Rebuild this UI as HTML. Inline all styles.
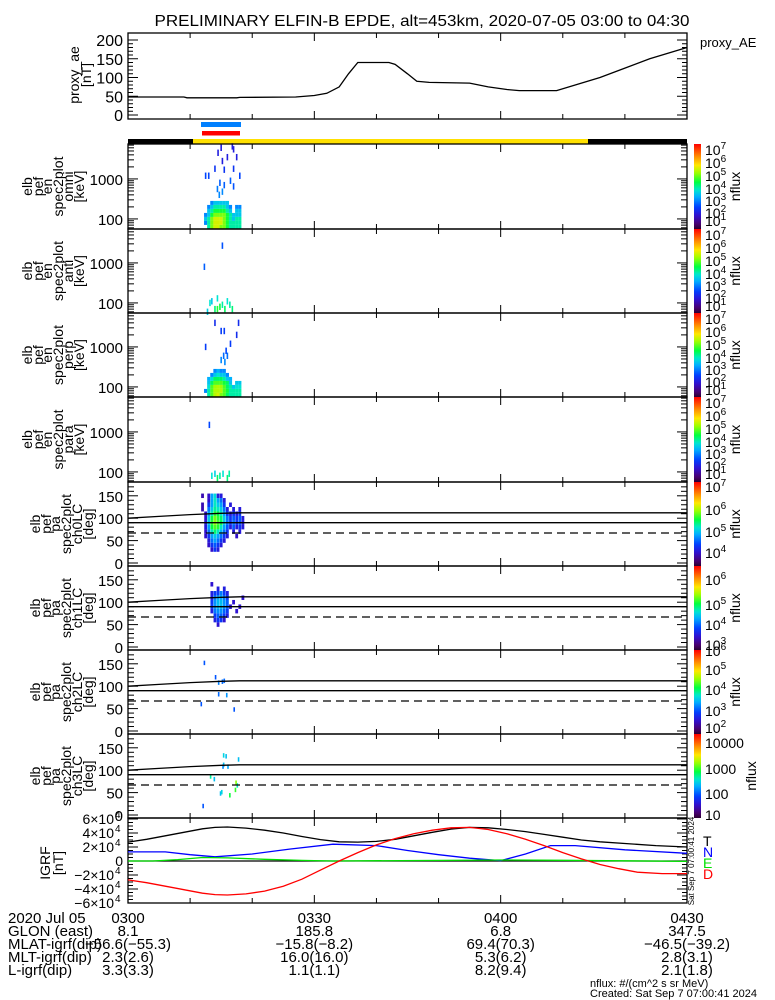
<!DOCTYPE html>
<html><head><meta charset="utf-8"><style>
html,body{margin:0;padding:0;background:#fff}
svg{display:block}
text{font-family:"Liberation Sans",sans-serif;fill:#000}
</style></head><body>
<svg id="fig" xmlns="http://www.w3.org/2000/svg" width="775" height="1000" viewBox="0 0 775 1000">
<rect width="775" height="1000" fill="#fff"/>
<text x="422" y="26" font-size="16" text-anchor="middle" textLength="535" lengthAdjust="spacingAndGlyphs">PRELIMINARY ELFIN-B EPDE, alt=453km, 2020-07-05 03:00 to 04:30</text>
</svg>
<script>
// ---------- data ----------
const aeTimes = [0,9,9.5,17.5,18,27,30,32,34,35.5,37,42,43,45,46.5,48.5,55,58,61,63,69,72,76,80,84,90];
const aeValues = [48,48,46,46,47,48,52,58,75,110,140,140,135,110,90,87,85,75,68,65,65,80,100,125,150,180];

const specBinsLog = [1.75,1.85,1.95,2.05,2.15,2.25,2.35];
const specTimes = [12.5,13,13.5,14,14.5,15,15.5,16,16.5,17,17.5,18];
const omniFlux = [
 [0,4,5,5.5,5.5,5,5,4.5,4,4,4,4],
 [3,4,5,5.5,5.5,5.5,5,4.5,4,4,4,4],
 [3.5,4,5,5.5,5.5,5.5,5,4.5,4,3.5,4,4],
 [3,3.5,4.5,5,5,5,5,4.5,4,3.5,3.5,3.5],
 [0,3.5,4,4.5,4.5,4.5,4.5,4,3.5,0,3.5,3.5],
 [0,3,3.5,4,4,4,4,3.5,3,0,3,3],
 [0,0,3,3.5,3.5,3.5,3.5,3.5,0,0,0,0]];
const perpFlux = [
 [0,4,4.8,5.3,5.5,5,4.8,4.3,4,4,4,4],
 [3,4,4.8,5.3,5.3,5.3,4.8,4.5,4,4,4,4],
 [0,3.8,4.8,5.2,5.3,5.2,4.8,4.3,4,3.5,3.8,3.8],
 [0,3.5,4.3,4.8,4.8,4.8,4.5,4.3,3.5,0,3.5,3.5],
 [0,3.3,3.8,4.3,4.3,4.3,4,3.5,3.3,0,0,0],
 [0,0,3,3.5,3.8,3.5,3.5,3,0,0,0,0],
 [0,0,0,3,3.3,3,3,0,0,0,0,0]];
const omniSparse = [[12.5,1200,2.5],[13,1200,2.5],[14,1800,2.3],[15.5,1700,2.3],[17,1800,2.3],[15.2,2800,2],[16,3500,2],[17.5,3500,2],[14.5,4500,2],[17,5500,2],[16.8,6500,2],[15,6000,2],[18,1200,2.5],[16.5,900,2.7],[14.8,800,2.7],[15.5,700,2.7],[17,650,2.6],[14.4,560,2.9],[15.2,480,3],[14.7,400,3]];
const perpSparse = [[14,4000,2.2],[15,2500,2.4],[15.5,2500,2.4],[17.8,4000,2.2],[17.5,2000,2.2],[16.5,1200,2.4],[12.5,1000,2.4],[15.8,800,2.5],[15.4,600,2.8],[16,600,2.8],[15,470,3],[15.6,420,3]];
const antSparse = [[13.2,100,3.8],[13.5,110,3.5],[14,70,4.2],[14.4,130,3.8],[14.8,80,4.5],[15.2,90,4],[15.6,70,4.3],[16,110,3.8],[16.4,90,4],[16.8,70,4.2],[14.4,70,4.6],[12.8,60,3.6],[15.2,2700,2.6],[12.3,800,2.7]];
const paraSparse = [[13.1,1500,2.5],[13.5,80,3.8],[14,90,3.6],[14.4,70,4.3],[14.8,80,4],[15.3,90,3.8],[16,70,4.2],[16.3,90,4]];

const paBins = [150,140,130,120,110,100,90,80,70,60,50,40,30];
const ch0Times = [12,12.5,13,13.5,14,14.5,15,15.5,16,16.5,17,17.5,18,18.5];
const ch0Flux = [
 [3.9,0,4,4.8,5.1,4.1,4.1,0,0,0,0,0,0,0],
 [0,0,4,4.8,5.2,4.8,4.6,4.1,0,0,0,0,0,0],
 [3.9,0,4.3,4.8,5.2,5,4.8,4.3,0,4.1,0,0,0,0],
 [3.9,0,4.6,5,5.3,5.2,5,4.6,4.1,0,4.1,0,4.1,0],
 [0,4,4.8,5.2,5.6,5.5,5.2,4.8,4.3,4.1,4.3,4.1,4.3,0],
 [0,4,5,5.5,5.8,5.6,5.4,5,4.6,4.3,4.5,4.3,4.5,4.1],
 [0,4.1,5,5.6,5.9,5.7,5.5,5,4.6,4.3,4.6,4.3,4.5,4.1],
 [0,4.1,4.8,5.5,5.7,5.6,5.2,4.8,4.5,4.1,4.5,4.1,4.3,4.1],
 [0,4,4.6,5.2,5.4,5.2,4.9,4.6,4.3,0,4.1,0,4.1,0],
 [0,4,4.3,4.8,5,4.8,4.6,4.3,4.1,0,0,4,0,0],
 [0,0,4.1,4.6,4.8,4.6,4.3,4.1,0,0,0,0,0,0],
 [0,0,4,4.3,4.5,4.3,4.1,0,0,0,0,0,0,0],
 [0,0,0,4,4.3,4.1,0,0,0,0,0,0,0,0]];
const ch1Times = [13,13.5,14,14.5,15,15.5,16,16.5,17,17.5,18,18.5];
const ch1Flux = [
 [0,0,0,0,0,0,0,0,0,0,0,0],
 [0,3.4,0,0,0,0,0,0,0,0,0,0],
 [0,0,0,3.5,0,3.5,0,0,0,0,0,0],
 [0,3.5,3.7,3.7,4,3.7,3.5,0,0,0,0,0],
 [0,3.5,4,4.2,4.2,4,3.7,0,0,0,0,3.4],
 [0,3.7,4.1,4.3,4.3,4.1,3.9,0,3.4,0,0,0],
 [0,3.7,4.1,4.3,4.3,4.1,3.9,3.4,0,0,3.4,0],
 [0,3.5,4,4.1,4.1,3.9,3.7,0,0,3.4,0,0],
 [0,0,3.7,3.9,3.9,3.7,3.5,0,0,0,0,0],
 [0,0,3.5,3.7,3.7,3.4,0,0,0,0,0,0],
 [0,0,0,3.4,0,0,0,0,0,0,0,0],
 [0,0,0,0,0,0,0,0,0,0,0,0],
 [0,0,0,0,0,0,0,0,0,0,0,0]];
const ch2Sparse = [[12.3,152,2.9],[14.1,120,2.9],[14.6,108,3.1],[15.2,110,3],[15.5,112,3],[14.6,82,3],[15.9,80,3.2],[11.8,60,2.9],[17.1,48,2.9]];
const ch3Sparse = [[15.4,133,2.3],[15.8,131,2.2],[15.4,112,2.2],[15.3,108,2],[16.1,108,2.1],[17.8,124,2.2],[13.3,86,2.5],[13.9,80,2.2],[14.9,48,2.2],[15.1,51,2.3],[16.4,44,2.7],[17.3,56,2.8],[17.6,66,2.4],[17.4,72,3],[12.1,20,1.8]];

const lcTimes = [0,5,10,15,18,90];
const lcValues = [100,104,108,111,112,112];

const igrfTimes = [0,3,6,9,12,14,16,19,22,25,28,31,34,37,40,43,46,49,52,55,58,61,64,67,70,73,76,80,85,90];
const igrfT = [27000,31000,36000,41000,46000,48000,48500,47000,44000,40000,35000,30500,27500,27000,28000,31000,36000,41000,45500,48000,47500,45000,42000,38000,34000,30000,27500,25000,22000,20000];
const nTimes = [0,6,10,14,20,26,33,40,45,50,55,60,64,68,72,80,90];
const igrfN = [13000,13000,9000,6000,10000,17000,24000,22000,15000,9000,4000,500,10000,22000,22000,16000,11000];
const eTimes = [0,4,8,12,16,22,28,33,60,70,90];
const igrfE = [0,0,2000,5000,4500,2500,800,0,1500,1000,-500];
const dTimes = [0,3,6,9,12,14,16,19,22,25,28,31,34,37,40,43,46,49,52,55,58,61,64,67,70,73,76,79,82,86,90];
const igrfD = [-27000,-31000,-36000,-41000,-46000,-48000,-48500,-47000,-43000,-36000,-26000,-13000,0,12000,23000,32000,39000,44000,47500,48000,45000,39000,31000,22000,12000,3000,-5000,-11000,-16000,-18000,-18000];

const bottomLabels = ["2020 Jul 05","GLON (east)","MLAT-igrf(dip)","MLT-igrf(dip)","L-igrf(dip)"];
const colTimes = [0,30,60,90];
const colValues = [
 ["0300","8.1","−56.6(−55.3)","2.3(2.6)","3.3(3.3)"],
 ["0330","185.8","−15.8(−8.2)","16.0(16.0)","1.1(1.1)"],
 ["0400","6.8","69.4(70.3)","5.3(6.2)","8.2(9.4)"],
 ["0430","347.5","−46.5(−39.2)","2.8(3.1)","2.1(1.8)"]];

// ---------- helpers ----------
const NS = "http://www.w3.org/2000/svg";
const svg = document.getElementById('fig');
const X0 = 128, X1 = 687;
const xs = m => X0 + m * (X1 - X0) / 90;
function el(tag, attrs, parent) {
  const e = document.createElementNS(NS, tag);
  for (const k in attrs) e.setAttribute(k, attrs[k]);
  (parent || svg).appendChild(e);
  return e;
}
function txt(x, y, s, size, anchor, parent) {
  const t = el('text', {x: x, y: y, 'font-size': size || 14, 'text-anchor': anchor || 'start'}, parent);
  t.textContent = s;
  return t;
}
const stops = [[0,'#2a0030'],[0.06,'#4a0070'],[0.16,'#3010d0'],[0.26,'#0040ff'],[0.38,'#00b0ff'],[0.46,'#00e8d0'],[0.55,'#00ff40'],[0.66,'#a0ff00'],[0.75,'#ffe800'],[0.86,'#ff8800'],[1,'#ff0000']];
function hex(c){return [parseInt(c.substr(1,2),16),parseInt(c.substr(3,2),16),parseInt(c.substr(5,2),16)];}
function cmap(f) {
  f = Math.max(0, Math.min(1, f));
  for (let i = 1; i < stops.length; i++) {
    if (f <= stops[i][0]) {
      const a = hex(stops[i-1][1]), b = hex(stops[i][1]);
      const t = (f - stops[i-1][0]) / (stops[i][0] - stops[i-1][0]);
      return 'rgb(' + a.map((v, j) => Math.round(v + (b[j] - v) * t)).join(',') + ')';
    }
  }
  return stops[stops.length-1][1];
}
let gradMade = false;
function colorbar(top, bot, name) {
  if (!gradMade) {
    const defs = el('defs', {});
    const g = el('linearGradient', {id: 'cb', x1: 0, y1: 1, x2: 0, y2: 0}, defs);
    for (let i = 0; i <= 40; i++) el('stop', {offset: i / 40, 'stop-color': cmap(i / 40)}, g);
    gradMade = true;
  }
  const r = el('rect', {x: 694, y: top, width: 7, height: bot - top, fill: 'url(#cb)'});
  
  
}
function powLabel(x, y, exp, g) {
  const t = el('text', {x: x, y: y, 'font-size': 14}, g);
  t.appendChild(document.createTextNode('10'));
  const s = el('tspan', {dy: -6, 'font-size': 10}, t);
  s.textContent = exp;
}
function frame(top, bot, name) {
  const r = el('rect', {x: X0, y: top, width: X1 - X0, height: bot - top, fill: 'none', stroke: '#000', 'stroke-width': 1.3});
  
  
  for (let m = 0; m <= 90; m += 10) {
    const x = xs(m), L = (m % 30 === 0) ? 8 : 5;
    el('line', {x1: x, y1: top, x2: x, y2: top + L, stroke: '#000'});
    el('line', {x1: x, y1: bot, x2: x, y2: bot - L, stroke: '#000'});
  }
}
function ytick(y, L) {
  el('line', {x1: X0, y1: y, x2: X0 + L, y2: y, stroke: '#000'});
  el('line', {x1: X1, y1: y, x2: X1 - L, y2: y, stroke: '#000'});
}
function rotLabel(lines, xsPos, cy, name) {
  const g = el('g', {});
  
  
  lines.forEach((s, i) => {
    const t = el('text', {x: 0, y: 0, 'font-size': 14, 'text-anchor': 'middle', 'dominant-baseline': 'central', transform: 'translate(' + xsPos[i] + ',' + cy + ') rotate(-90)'}, g);
    t.textContent = s;
  });
}
function poly(times, vals, yf, color, name, dash) {
  const pts = times.map((t, i) => xs(t).toFixed(1) + ',' + yf(vals[i]).toFixed(1)).join(' ');
  const p = el('polyline', {points: pts, fill: 'none', stroke: color, 'stroke-width': 1.3});
  if (dash) p.setAttribute('stroke-dasharray', dash);
  
  
}

// ---------- AE panel ----------
const aeY = v => 115 - v * 0.375;
frame(33, 119, 'proxy-ae-panel');
for (let v = 0; v <= 200; v += 10) ytick(aeY(v), v % 50 === 0 ? 10 : 5);
[0,50,100,150,200].forEach(v => {
  const t = txt(123, aeY(v) + 6, String(v), 16, 'end');
  
  
});
poly(aeTimes, aeValues, aeY, '#000', 'proxy-ae-line');
rotLabel(['proxy_ae', '[nT]'], [74, 86], 75, 'ae-y-axis-title');
{ const t = txt(700, 47, 'proxy_AE', 13);   }

// bars
{ let r = el('rect', {x: 201, y: 122, width: 40, height: 5, fill: '#0080ff'});  
  r = el('rect', {x: 202, y: 131, width: 38, height: 4.5, fill: '#ff0000'});  
  r = el('rect', {x: X0, y: 139, width: 65, height: 5, fill: '#000'});  
  r = el('rect', {x: 193, y: 139, width: 395, height: 5, fill: '#ffe000'});  
  r = el('rect', {x: 588, y: 139, width: 99, height: 5, fill: '#000'});   }

// ---------- spectrogram panels ----------
const specTops = [144, 229, 313, 397, 482];
const specNames = ['omni', 'anti', 'perp', 'para'];
const specFrac = f => 0.19 + (f - 2) * 0.148;
specNames.forEach((nm, p) => {
  const top = specTops[p], bot = specTops[p + 1];
  const eY = lg => bot - (lg - Math.log10(56)) * 40;
  const cells = el('g', {});
  
  
  const mat = p === 0 ? omniFlux : p === 2 ? perpFlux : null;
  if (mat) mat.forEach((row, bi) => row.forEach((f, ti) => {
    if (!f) return;
    const y0 = eY(specBinsLog[bi] + 0.1), y1 = eY(specBinsLog[bi]);
    const r = el('rect', {x: xs(specTimes[ti]) - 1.6, y: y0, width: 3.2, height: y1 - y0, fill: cmap(specFrac(f))}, cells);
    
    
  }));
  const sp = [omniSparse, antSparse, perpSparse, paraSparse][p];
  sp.forEach(d => {
    const lg = Math.log10(d[1]);
    const y0 = eY(lg + 0.08), y1 = eY(lg - 0.08);
    const r = el('rect', {x: xs(d[0]) - 0.8, y: y0, width: 1.6, height: y1 - y0, fill: cmap(specFrac(d[2]))}, cells);
    
    
  });
  frame(top, bot, 'spectrogram-' + nm + '-panel');
  for (let d = 1; d <= 3; d++) for (let m = 1; m <= 9; m++) {
    const y = eY(Math.log10(m * Math.pow(10, d)));
    if (y > top + 1 && y < bot - 1) ytick(y, m === 1 ? 10 : 6);
  }
  [[100, '100'], [1000, '1000']].forEach(v => {
    const t = txt(123, eY(Math.log10(v[0])) + 6, v[1], 15, 'end');
    
    
  });
  const lbl = ['elb', 'pef', 'en', 'spec2plot', nm, '[keV]'];
  rotLabel(lbl, [27, 38, 47, 58, 68, 79], (top + bot) / 2, 'spectrogram-' + nm + '-y-title');
  colorbar(top, bot, 'colorbar-' + nm);
  const g = el('g', {});
  
  
  [7,6,5,4,3,2,1].forEach((e, i) => powLabel(705, top + [11,24,37,50,62,74,82][i], e, g));
  const n = el('text', {x: 0, y: 0, 'font-size': 14, 'text-anchor': 'middle', transform: 'translate(740,' + ((top + bot) / 2) + ') rotate(-90)'}, g);
  n.textContent = 'nflux';
});

// ---------- pitch angle panels ----------
const paTops = [482, 566, 650, 734, 818];
const paNames = ['ch0LC', 'ch1LC', 'ch2LC', 'ch3LC'];
const paFracs = [f => 0.155 + (f - 4) * 0.262, f => 0.06 + (f - 3) * 0.262, f => 0.07 + (f - 2) * 0.235, f => 0.036 + (f - 1) * 0.305];
const paLabelSets = [
  [[7,5],[6,28],[5,50],[4,71]],
  [[6,14],[5,39],[4,59],[3,79]],
  [[6,1],[5,20],[4,40],[3,61],[2,78]],
  null];
paNames.forEach((nm, p) => {
  const top = paTops[p], bot = paTops[p + 1];
  const pY = v => bot - 3 - v * 0.448;
  const cells = el('g', {});
  
  
  const fr = paFracs[p];
  const mat = p === 0 ? ch0Flux : p === 1 ? ch1Flux : null;
  const tms = p === 0 ? ch0Times : ch1Times;
  if (mat) mat.forEach((row, bi) => row.forEach((f, ti) => {
    if (!f) return;
    const y0 = pY(paBins[bi] + 5), y1 = pY(paBins[bi] - 5);
    const r = el('rect', {x: xs(tms[ti]) - 1.4, y: y0, width: 2.8, height: y1 - y0, fill: cmap(fr(f))}, cells);
    
    
  }));
  const sp = p === 2 ? ch2Sparse : p === 3 ? ch3Sparse : [];
  sp.forEach(d => {
    const y0 = pY(d[1] + 5), y1 = pY(d[1] - 5);
    const r = el('rect', {x: xs(d[0]) - 0.8, y: y0, width: 1.6, height: y1 - y0, fill: cmap(fr(d[2]))}, cells);
    
    
  });
  poly(lcTimes, lcValues, pY, '#000', 'loss-cone-line-' + nm);
  poly([0, 90], [90, 90], pY, '#000', 'ninety-degree-line-' + nm);
  poly([0, 90], [67, 67], pY, '#000', 'anti-loss-cone-line-' + nm, '8,5');
  frame(top, bot, 'pitch-angle-' + nm + '-panel');
  for (let v = 0; v <= 180; v += 10) { const y = pY(v); if (y > top + 1) ytick(y, v % 50 === 0 ? 10 : 6); }
  [0, 50, 100, 150].forEach(v => {
    const t = txt(123, pY(v) + 6, String(v), 15, 'end');
    
    
  });
  rotLabel(['elb', 'pef', 'pa', 'spec2plot', nm, '[deg]'], [35, 46, 55, 66, 77, 88], (top + bot) / 2, 'pitch-angle-' + nm + '-y-title');
  colorbar(top, bot, 'colorbar-' + nm);
  const g = el('g', {});
  
  
  if (paLabelSets[p]) paLabelSets[p].forEach(l => powLabel(705, top + l[1] + 5, l[0], g));
  else [['10000', 9], ['1000', 35], ['100', 60], ['10', 81]].forEach(l => txt(705, top + l[1] + 5, l[0], 14, 'start', g));
  const n = el('text', {x: 0, y: 0, 'font-size': 14, 'text-anchor': 'middle', transform: 'translate(' + (p === 3 ? 756 : 740) + ',' + ((top + bot) / 2) + ') rotate(-90)'}, g);
  n.textContent = 'nflux';
});

// ---------- IGRF panel ----------
const gY = v => 861 - v * 7 / 10000;
frame(818, 903, 'igrf-panel');
for (let v = -60000; v <= 60000; v += 5000) ytick(gY(v), v % 20000 === 0 ? 10 : 5);
el('line', {x1: X0, y1: gY(0), x2: X1, y2: gY(0), stroke: '#000', 'stroke-width': 1.3});
[[60000,'6×10'],[40000,'4×10'],[20000,'2×10'],[0,'0'],[-20000,'−2×10'],[-40000,'−4×10'],[-60000,'−6×10']].forEach(l => {
  const t = el('text', {x: l[0] === 0 ? 123 : 114, y: gY(l[0]) + 5, 'font-size': 14, 'text-anchor': 'end'});
  t.textContent = l[1];
  
  
  if (l[0] !== 0) { const s = txt(115, gY(l[0]) - 1, '4', 10);   }
});
poly(igrfTimes, igrfT, gY, '#000', 'igrf-total-line');
poly(nTimes, igrfN, gY, '#0000ff', 'igrf-north-line');
poly(eTimes, igrfE, gY, '#00e000', 'igrf-east-line');
poly(dTimes, igrfD, gY, '#ff0000', 'igrf-down-line');
rotLabel(['IGRF', '[nT]'], [45, 58], 863, 'igrf-y-axis-title');
[['T', '#000', 846], ['N', '#0000ff', 857], ['E', '#00e000', 868], ['D', '#ff0000', 879]].forEach(l => {
  const t = txt(703, l[2], l[0], 14); t.setAttribute('fill', l[1]); t.style.fill = l[1];
  
  
});
{ const t = el('text', {x: 0, y: 0, 'font-size': 8, 'text-anchor': 'middle', transform: 'translate(694,861) rotate(-90)'});
  t.textContent = 'Sat Sep  7 07:00:41 2024';
    }

// ---------- bottom annotation ----------
bottomLabels.forEach((s, i) => {
  const t = txt(8, 923 + i * 13, s, 15);
  
  
});
colTimes.forEach((m, c) => colValues[c].forEach((s, i) => {
  const t = txt(xs(m), 923 + i * 13, s, 15, 'middle');
  
  
}));
{ let t = txt(590, 987, 'nflux: #/(cm^2 s sr MeV)', 11);  
  t = txt(590, 997, 'Created: Sat Sep  7 07:00:41 2024', 11);   }
</script>
</body></html>
